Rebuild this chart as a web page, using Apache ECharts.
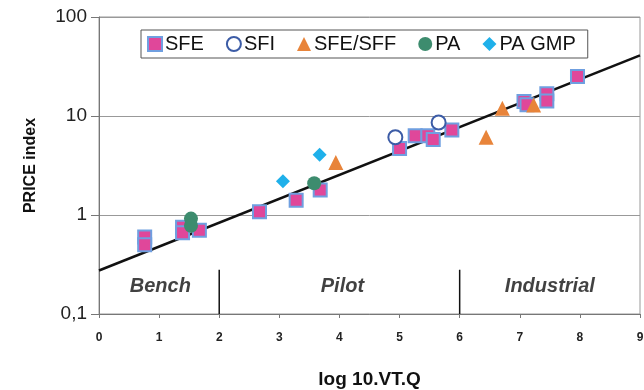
<!DOCTYPE html>
<html>
<head>
<meta charset="utf-8">
<script src="https://cdn.jsdelivr.net/npm/echarts@6/dist/echarts.min.js"></script>
<style>html,body{margin:0;padding:0;background:#fff;}#c{width:644px;height:390px;}</style>
</head>
<body>
<div id="c"></div>
<script>
// Data
var xTicks = [0, 1, 2, 3, 4, 5, 6, 7, 8, 9];
var yTicks = [0.1, 1, 10, 100];
var sfe = [[0.76, 0.60], [0.76, 0.50], [1.39, 0.75], [1.39, 0.66], [1.67, 0.70],
           [2.67, 1.08], [3.28, 1.41], [3.68, 1.79],
           [5.00, 4.70], [5.26, 6.3], [5.47, 6.3], [5.56, 5.8], [5.87, 7.2],
           [7.07, 14.0], [7.12, 13.0], [7.45, 16.8], [7.45, 14.2], [7.96, 25.0]];
var sfi = [[4.93, 6.1], [5.65, 8.6]];
var sfeSff = [[3.94, 3.4], [6.44, 6.1], [6.71, 12.0], [7.23, 12.9]];
var pa = [[1.53, 0.92], [1.53, 0.78], [3.58, 2.09]];
var paGmp = [[3.06, 2.19], [3.67, 4.05]];
var trend = [[0, 0.275], [9, 41]];
var separatorX = [2, 6];
var separatorTop = 0.28;
var zoneNames = ['Bench', 'Pilot', 'Industrial'];
var zoneX = [1.02, 4.05, 7.5];
var zoneY = 0.19;

var chart = echarts.init(document.getElementById('c'), null, {renderer: 'canvas'});
var FONT = '"Liberation Sans", Arial, sans-serif';

var series = [
  {name: 'trend', type: 'line', data: trend, symbol: 'none', silent: true,
   lineStyle: {color: '#111', width: 2.5}, z: 3},
  {name: 'SFE', type: 'scatter', data: sfe, symbol: 'rect', symbolSize: 13,
   itemStyle: {color: '#e0479a', borderColor: '#6f9fe0', borderWidth: 2, opacity: 1}, z: 4},
  {name: 'SFI', type: 'scatter', data: sfi, symbol: 'circle', symbolSize: 14,
   itemStyle: {color: '#ffffff', borderColor: '#3c5ca6', borderWidth: 2, opacity: 1}, z: 4},
  {name: 'SFE/SFF', type: 'scatter', data: sfeSff, symbol: 'triangle', symbolSize: 15,
   itemStyle: {color: '#e8843a', opacity: 1}, z: 4},
  {name: 'PA', type: 'scatter', data: pa, symbol: 'circle', symbolSize: 14,
   itemStyle: {color: '#3d8c6e', opacity: 1}, z: 4},
  {name: 'PA GMP', type: 'scatter', data: paGmp, symbol: 'diamond', symbolSize: 14,
   itemStyle: {color: '#1fb0ea', opacity: 1}, z: 4},
  {name: 'zones', type: 'scatter', silent: true, symbolSize: 0,
   data: zoneNames.map(function (n, i) { return {name: n, value: [zoneX[i], zoneY]}; }),
   label: {show: true, position: 'inside', formatter: '{b}', color: '#111',
           fontFamily: FONT, fontSize: 20, fontWeight: 'bold', fontStyle: 'italic'}, z: 5}
];
separatorX.forEach(function (x, i) {
  series.push({name: 'sep' + i, type: 'line', data: [[x, 0.1], [x, separatorTop]], symbol: 'none',
               silent: true, lineStyle: {color: '#111', width: 1.5}, z: 3});
});

chart.setOption({
  animation: false,
  backgroundColor: '#ffffff',
  grid: {left: 99, right: 4, top: 17, bottom: 76, show: true, borderColor: '#999', borderWidth: 1,
         containLabel: false, outerBoundsMode: 'none'},
  legend: {
    data: ['SFE', 'SFI', 'SFE/SFF', 'PA', 'PA GMP'],
    left: 141, top: 30, orient: 'horizontal',
    itemWidth: 14, itemHeight: 14, itemGap: 22,
    padding: [4, 12, 4, 6],
    borderColor: '#555', borderWidth: 1, backgroundColor: '#fff',
    textStyle: {fontFamily: FONT, fontSize: 20, color: '#111', padding: [0, 0, 0, -2]}
  },
  xAxis: {
    type: 'value', min: 0, max: 9, interval: 1,
    name: 'log 10.VT.Q', nameLocation: 'middle', nameGap: 56,
    nameTextStyle: {fontFamily: FONT, fontSize: 19, fontWeight: 'bold', color: '#111'},
    axisLine: {show: true, onZero: false, lineStyle: {color: '#777', width: 1}},
    axisTick: {show: true, length: 4, lineStyle: {color: '#777'}},
    axisLabel: {fontFamily: FONT, fontSize: 12, fontWeight: 'bold', color: '#222', margin: 18,
                formatter: function (v) { return xTicks.indexOf(v) >= 0 ? String(v) : ''; }},
    splitLine: {show: false}
  },
  yAxis: {
    type: 'log', logBase: 10, min: yTicks[0], max: yTicks[yTicks.length - 1],
    name: 'PRICE index', nameLocation: 'middle', nameGap: 60,
    nameTextStyle: {fontFamily: FONT, fontSize: 16, fontWeight: 'bold', color: '#111'},
    axisLine: {show: true, lineStyle: {color: '#777', width: 1}},
    axisTick: {show: true, length: 8, lineStyle: {color: '#777'}},
    axisLabel: {fontFamily: FONT, fontSize: 19, color: '#222', margin: 12,
                formatter: function (v) { return String(v).replace('.', ','); }},
    splitLine: {show: true, lineStyle: {color: '#999', width: 1}},
    minorTick: {show: false}
  },
  series: series
});
</script>
</body>
</html>
